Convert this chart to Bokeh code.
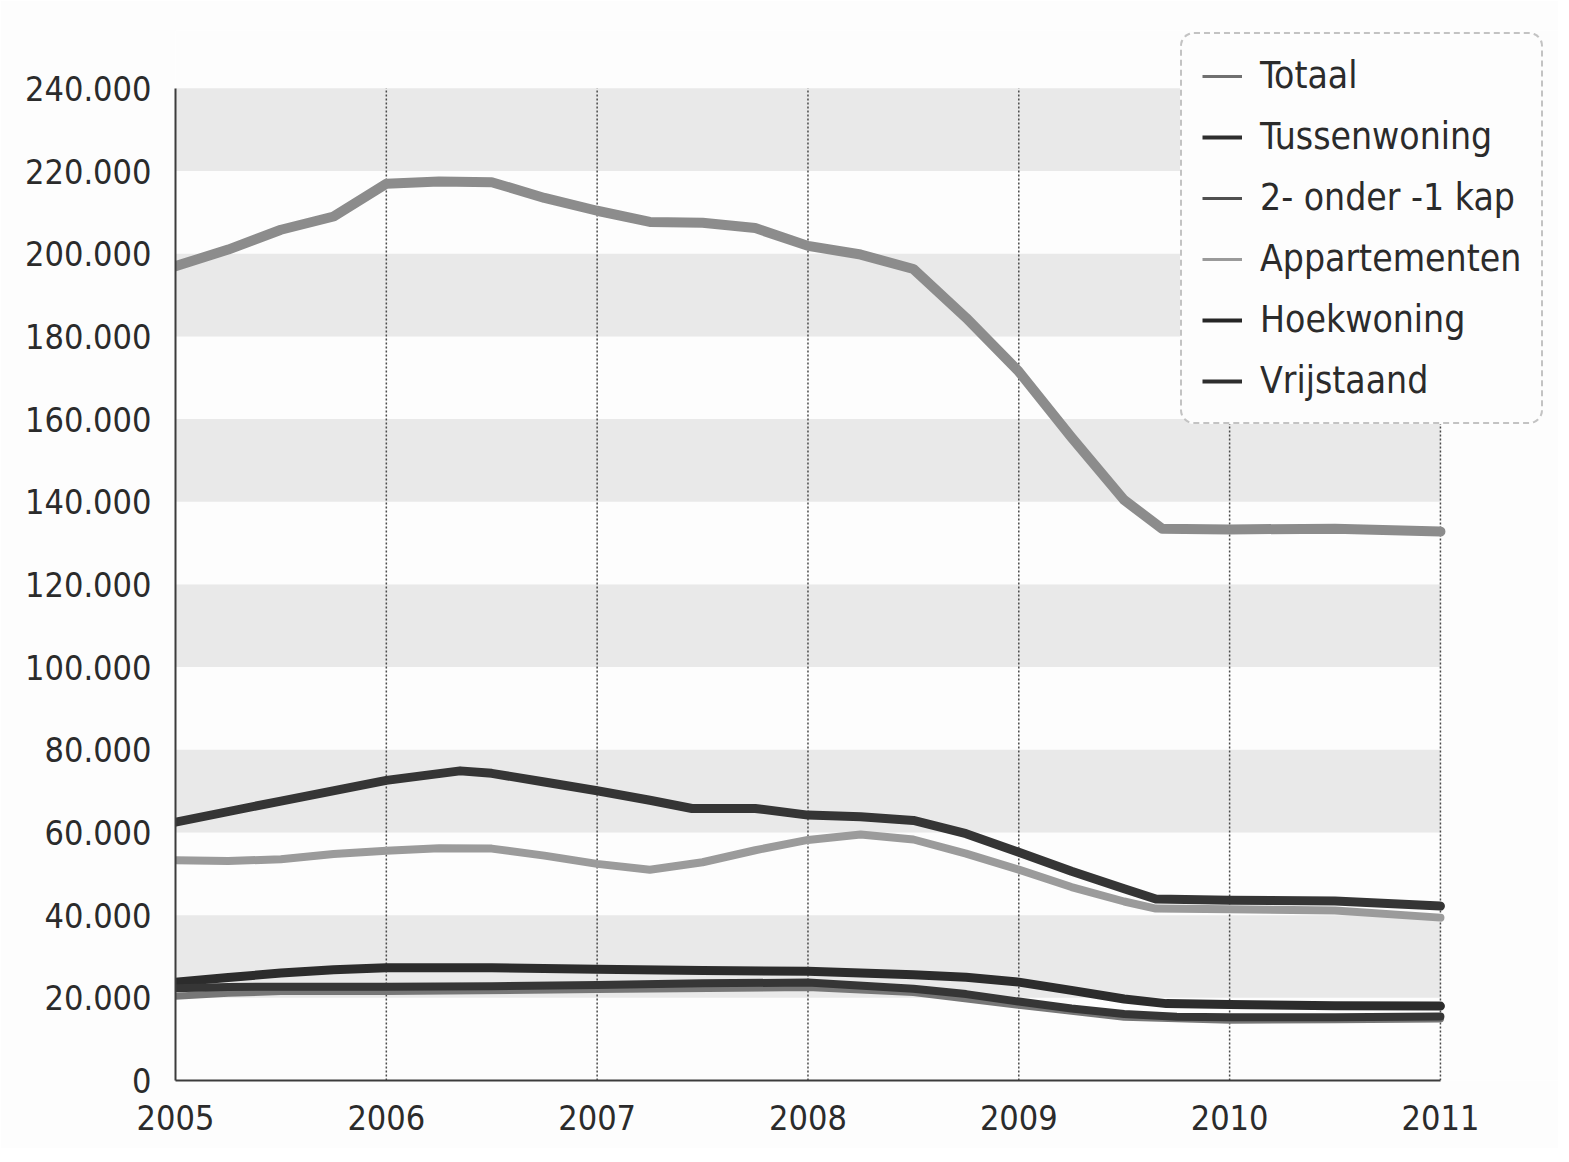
from bokeh.plotting import figure
from bokeh.models import FixedTicker, Legend, LegendItem, Range1d
from bokeh.embed import file_html
from bokeh.resources import INLINE

FONT = "DejaVu Sans Condensed, Roboto, sans-serif"

# ---- data ----
tot_x = [2005.0, 2005.25, 2005.5, 2005.75, 2006.0, 2006.25, 2006.5, 2006.75, 2007.0, 2007.25,
         2007.5, 2007.75, 2008.0, 2008.25, 2008.5, 2008.75, 2009.0, 2009.25, 2009.5, 2009.68,
         2010.0, 2010.5, 2011.0]
tot_y = [197000, 201000, 205800, 209000, 216900, 217500, 217300, 213500, 210400, 207700,
         207500, 206200, 201900, 199800, 196300, 184500, 171500, 155600, 140400, 133500,
         133300, 133500, 132800]

tus_x = [2005.0, 2005.5, 2006.0, 2006.35, 2006.5, 2006.75, 2007.0, 2007.25, 2007.45, 2007.75,
         2008.0, 2008.25, 2008.5, 2008.75, 2009.0, 2009.25, 2009.5, 2009.65, 2010.0, 2010.5, 2011.0]
tus_y = [62500, 67600, 72600, 74900, 74300, 72200, 70100, 67800, 65800, 65800,
         64200, 63800, 62900, 59700, 55200, 50600, 46400, 43900, 43600, 43400, 42200]

app_x = [2005.0, 2005.25, 2005.5, 2005.75, 2006.0, 2006.25, 2006.5, 2006.75, 2007.0, 2007.25,
         2007.5, 2007.75, 2008.0, 2008.25, 2008.5, 2008.75, 2009.0, 2009.25, 2009.5, 2009.65,
         2010.0, 2010.5, 2011.0]
app_y = [53300, 53100, 53500, 54800, 55600, 56200, 56100, 54400, 52400, 51000,
         52800, 55700, 58200, 59500, 58300, 54900, 51000, 46800, 43300, 41600,
         41400, 41100, 39400]

hoek_x = [2005.0, 2005.25, 2005.5, 2005.75, 2006.0, 2006.5, 2007.0, 2007.5, 2008.0, 2008.5,
          2008.75, 2009.0, 2009.25, 2009.5, 2009.7, 2010.0, 2010.5, 2011.0]
hoek_y = [23800, 24900, 26000, 26800, 27300, 27300, 26900, 26600, 26400, 25600,
          25000, 23800, 21800, 19700, 18600, 18400, 18100, 18000]

vrij_x = [2005.0, 2005.25, 2005.5, 2006.0, 2006.5, 2007.0, 2007.5, 2008.0, 2008.5, 2008.75,
          2009.0, 2009.25, 2009.5, 2009.75, 2010.0, 2010.5, 2011.0]
vrij_y = [22300, 22600, 22700, 22700, 22800, 23100, 23500, 23700, 22200, 20900,
          19100, 17400, 16100, 15400, 15300, 15300, 15500]

kap_x = [2005.0, 2005.25, 2005.5, 2006.0, 2007.0, 2008.0, 2008.5, 2009.0, 2009.5, 2010.0, 2010.5, 2011.0]
kap_y = [20400, 21100, 21500, 21500, 22000, 22500, 21300, 18200, 15300, 14600, 14700, 14900]

year_ticks = [2005, 2006, 2007, 2008, 2009, 2010, 2011]
value_ticks = [0, 20000, 40000, 60000, 80000, 100000, 120000, 140000, 160000, 180000,
               200000, 220000, 240000]
value_labels = ["0", "20.000", "40.000", "60.000", "80.000", "100.000", "120.000", "140.000",
                "160.000", "180.000", "200.000", "220.000", "240.000"]

series_names = ["Totaal", "Tussenwoning", "2- onder -1 kap", "Appartementen", "Hoekwoning", "Vrijstaand"]

# ---- figure ----
# frame reaches to the right/top so the legend box (which overhangs the plot) is not clipped
p = figure(output_backend="svg", toolbar_location=None,
           frame_width=1383, frame_height=1050,
           min_border_left=175, min_border_right=0, min_border_top=30, min_border_bottom=68,
           x_range=Range1d(2005, 2011.56), y_range=Range1d(0, 254000),
           background_fill_color="#fdfdfd", border_fill_color="#fdfdfd")
p.outline_line_color = None
p.xgrid.visible = False
p.ygrid.visible = False

# axes
for ax in (p.xaxis[0], p.yaxis[0]):
    ax.axis_line_color = "#3c3c3c"
    ax.axis_line_width = 2
    ax.major_tick_line_color = None
    ax.minor_tick_line_color = None
    ax.major_label_text_font = FONT
    ax.major_label_text_font_size = "34px"
    ax.major_label_text_color = "#2b2b2b"

p.xaxis.ticker = FixedTicker(ticks=year_ticks)
p.xaxis.bounds = (year_ticks[0], year_ticks[-1])
p.xaxis.major_label_standoff = 18
p.yaxis.ticker = FixedTicker(ticks=value_ticks)
p.yaxis.bounds = (value_ticks[0], value_ticks[-1])
p.yaxis.major_label_overrides = {t: l for t, l in zip(value_ticks, value_labels)}
p.yaxis.major_label_standoff = 18

# shaded bands (every other 20.000 step) and dotted year lines
n_bands = len(value_ticks[1:-1:2])
p.quad(left=[year_ticks[0]] * n_bands, right=[year_ticks[-1]] * n_bands,
       bottom=value_ticks[1:-1:2], top=value_ticks[2::2],
       fill_color="#d6d6d6", fill_alpha=0.5, line_color=None)
n_grid = len(year_ticks) - 1
p.segment(x0=year_ticks[1:], y0=[value_ticks[0]] * n_grid,
          x1=year_ticks[1:], y1=[value_ticks[-1]] * n_grid,
          line_color="#4a4a4a", line_dash="2 2", line_width=1.5)

# lines
kw = dict(line_join="round", line_cap="round")
p.line(tot_x, tot_y, line_color="#8c8c8c", line_width=10, **kw)
p.line(tus_x, tus_y, line_color="#353535", line_width=9, **kw)
p.line(app_x, app_y, line_color="#9b9b9b", line_width=8, **kw)
p.line(kap_x, kap_y, line_color="#777777", line_width=7, **kw)
p.line(hoek_x, hoek_y, line_color="#2c2c2c", line_width=9, **kw)
p.line(vrij_x, vrij_y, line_color="#363636", line_width=8, **kw)

# legend glyphs (thin, as in the legend box); a single NaN point so nothing is drawn in the plot
leg_colors = ["#707070", "#2e2e2e", "#505050", "#9a9a9a", "#262626", "#2e2e2e"]
leg_widths = [3, 4, 3, 3, 4, 4]
items = []
for name, c, w in zip(series_names, leg_colors, leg_widths):
    r = p.line([float("nan")], [float("nan")], line_color=c, line_width=w)
    items.append(LegendItem(label=name, renderers=[r]))

legend = Legend(items=items, location=(1005, 656),
                label_text_font=FONT, label_text_font_size="37px", label_text_color="#2b2b2b",
                glyph_width=40, glyph_height=40, label_height=40, spacing=18,
                padding=20, margin=0, label_standoff=18,
                border_line_color="#8a8a8a", border_line_width=2, border_line_dash="2 1",
                border_radius=14,
                background_fill_color="#fdfdfd", background_fill_alpha=1.0)
p.add_layout(legend, "center")

open("out.html", "w").write(file_html(p, INLINE))
